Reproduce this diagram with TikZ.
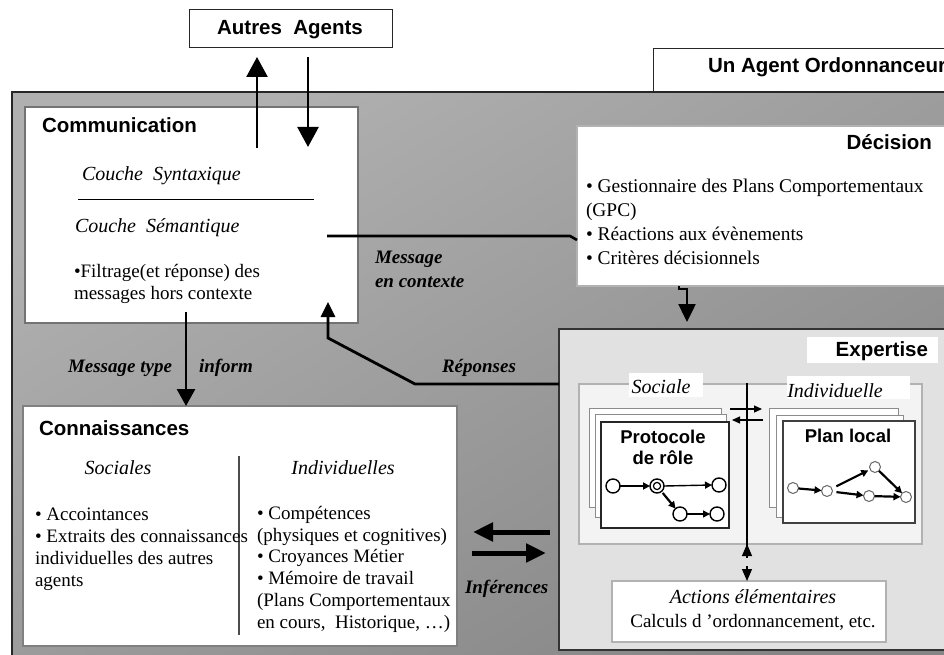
\documentclass[tikz,border=0pt]{standalone}
\usepackage{fontspec}
\setmainfont{Liberation Serif}
\setsansfont{Liberation Sans}
\usetikzlibrary{arrows.meta}

\definecolor{agentlight}{HTML}{B0B0B0}
\definecolor{agentdark}{HTML}{858585}
\definecolor{expfill}{HTML}{E1E1E1}
\definecolor{panelfill}{HTML}{F3F3F3}

\begin{document}
\begin{tikzpicture}[x=1pt,y=-1pt,
  every node/.style={inner sep=0pt, outer sep=0pt},
  box/.style={rectangle, anchor=north west, inner sep=0pt},
  head/.style={font=\sffamily\bfseries\fontsize{20.5}{22}\selectfont},
  subhead/.style={font=\sffamily\bfseries\fontsize{18.5}{21}\selectfont},
  txt/.style={font=\fontsize{19}{22}\selectfont, align=left},
  itx/.style={font=\itshape\fontsize{20}{22}\selectfont},
  bix/.style={font=\bfseries\itshape\fontsize{19}{24}\selectfont, align=left},
  bigarrow/.style={line width=2.5pt, -{Triangle[length=20pt,width=21pt]}},
  midarrow/.style={line width=2.8pt, -{Triangle[length=17pt,width=18pt]}},
  fatarrow/.style={line width=5pt, -{Triangle[length=20pt,width=18pt]}},
  thinarrow/.style={line width=1.2pt, -{Triangle[length=8pt,width=7pt]}},
  vhead/.style={line width=1.2pt, -{Triangle[length=12pt,width=10pt]}},
  pcircle/.style={circle, draw, line width=1.4pt, fill=white, minimum size=14},
  lcircle/.style={circle, draw=black!60, line width=1pt, fill=white, minimum size=11},
  garrow/.style={line width=2.2pt, -{Triangle[length=7pt,width=7pt]}},
  tarrow/.style={line width=1.4pt, -{Triangle[length=7pt,width=7pt]}},
  sheet/.style={box, draw=black!45, line width=1pt, fill=white},
]
\path[use as bounding box] (0,0) rectangle (944,655);
\clip (0,0) rectangle (944,655);
\fill[white] (0,0) rectangle (944,655);

% the agent container and its title tab
\node[box, top color=agentlight, bottom color=agentdark, shading angle=30,
      draw=black!85, line width=1.3pt, minimum width=968, minimum height=608] (agent) at (12,92) {};
\node[box, draw=black!85, line width=1pt, fill=white, minimum width=330, minimum height=43] (tab) at (653,49) {};
\node[head, anchor=base west] (tabT) at (708,73) {Un Agent Ordonnanceur};

% other agents
\node[box, draw=black!85, line width=1pt, fill=white, minimum width=203, minimum height=38] (agents) at (189,10) {};
\node[head, anchor=base] (agentsT) at (290,35) {Autres\ \ Agents};

% communication module
\node[box, draw=black!55, line width=1.2pt, fill=white, minimum width=333, minimum height=216] (comm) at (25,107) {};
\node[head, anchor=base west] (commT) at (42,133) {Communication};
\node[itx, anchor=base west] (synt) at (82,180) {Couche\ \ Syntaxique};
\draw[line width=1pt] (78,199) -- (314,199);
\node[itx, anchor=base west] (sem) at (75,232) {Couche\ \ Sémantique};
% multi-line texts are placed by the baseline of their last line
\node[txt, anchor=base west] (filt) at (74,299) {•Filtrage(et réponse) des\\messages hors contexte};

% decision module
\node[box, draw=black!30, line width=1.2pt, fill=white, minimum width=400, minimum height=160] (dec) at (577,126) {};
\node[head, anchor=base east] (decT) at (932,150) {Décision};
\node[txt, anchor=base west, font=\fontsize{19.4}{23.7}\selectfont] (decL) at (586,264)
  {• Gestionnaire des Plans Comportementaux\\(GPC)\\• Réactions aux évènements\\• Critères décisionnels};

% knowledge module
\node[box, draw=black!50, line width=1.2pt, fill=white, minimum width=434, minimum height=240] (conn) at (23,406) {};
\node[head, anchor=base west] (connT) at (39,435) {Connaissances};
\node[itx, anchor=base] (socT) at (118,474) {Sociales};
\node[itx, anchor=base] (indT) at (343,474) {Individuelles};
\draw[line width=1.2pt, black!70] (239,456) -- (239,635);
\node[txt, anchor=base west, font=\fontsize{19}{22}\selectfont] (socL) at (35,586)
  {• Accointances\\• Extraits des connaissances\\individuelles des autres\\agents};
\node[txt, anchor=base west, font=\fontsize{19}{21.7}\selectfont] (indL) at (257,628)
  {• Compétences\\(physiques et cognitives)\\• Croyances Métier\\• Mémoire de travail\\(Plans Comportementaux\\en cours,\ \ Historique, …)};

% expertise module
\node[box, draw=black!80, line width=2pt, fill=expfill, minimum width=420, minimum height=321] (exp) at (559,329) {};
\node[box, fill=white, minimum width=131, minimum height=26] (expLab) at (807,337) {};
\node[head, anchor=base east] (expT) at (928,356) {Expertise};
\node[box, draw=black!30, line width=1.2pt, fill=panelfill, minimum width=343, minimum height=160] (panel) at (579,384) {};
\node[box, fill=white, minimum width=74, minimum height=24] (socTab) at (629,373) {};
\node[box, fill=white, minimum width=123, minimum height=23] (indTab) at (787,376) {};
\node[itx, anchor=base] (socialeT) at (661,393) {Sociale};
\node[itx, anchor=base] (indivT) at (835,397) {Individuelle};

% role protocol sheets
\node[sheet, minimum width=132, minimum height=99] (pr3) at (589,408) {};
\node[sheet, minimum width=131, minimum height=103] (pr2) at (595,414) {};
\node[sheet, draw=black!85, line width=1.2pt, minimum width=128, minimum height=106] (pr1) at (601,422) {};
\node[subhead, anchor=base, align=center] (prT) at (663,464) {Protocole\\de rôle};

% local plan sheets
\node[sheet, minimum width=129, minimum height=99] (pl3) at (769,408) {};
\node[sheet, minimum width=127, minimum height=102] (pl2) at (776,415) {};
\node[sheet, draw=black!75, line width=1.2pt, minimum width=132, minimum height=102] (pl1) at (783,421) {};
\node[subhead, anchor=base] (plT) at (848,442) {Plan local};

% role protocol graph
\node[pcircle] (c1) at (613,486) {};
\node[pcircle] (c2) at (657,486) {};
\draw[line width=1.2pt] (c2.center) circle[radius=3.6];
\node[pcircle] (c3) at (719,485) {};
\node[pcircle] (c4) at (680,514) {};
\node[pcircle] (c5) at (717,514) {};
\draw[garrow] (c1) -- (c2);
\draw[tarrow] (c2.east) -- (c3.west);
\draw[garrow, shorten <=2pt] (c2) -- (c4);
\draw[tarrow] (c4) -- (c5);

% local plan graph
\node[lcircle] (p1) at (793,488) {};
\node[lcircle] (p2) at (827,491) {};
\node[lcircle] (p3) at (875,467) {};
\node[lcircle] (p4) at (869,496) {};
\node[lcircle] (p5) at (906,497) {};
\draw[garrow] (p1) -- (p2);
\draw[garrow, shorten <=5pt, shorten >=2pt] (p2) -- (p3);
\draw[garrow, shorten <=4pt] (p2) -- (p4);
\draw[garrow] (p3) -- (p5);
\draw[garrow] (p4) -- (p5);

% exchanges between the social and individual parts
\coordinate (sx1) at (730,409);
\coordinate (sx2) at (762,409);
\coordinate (sx3) at (763,420);
\coordinate (sx4) at (732,420);
\draw[thinarrow] (sx1) -- (sx2);
\draw[thinarrow] (sx3) -- (sx4);

% elementary actions
\node[box, draw=black!30, line width=1.5pt, fill=white, minimum width=274, minimum height=61] (act) at (612,581) {};
\node[itx, anchor=base] (actT) at (753,603) {Actions élémentaires};
\node[txt, anchor=base, font=\fontsize{19}{22}\selectfont] (actL) at (753,627) {Calculs d 'ordonnancement, etc.};
\coordinate (vt) at (747,383);
\coordinate (vm1) at (747,558);
\coordinate (vm2) at (747,566);
\draw[line width=1.2pt] (vt) -- (vm1);
\draw[vhead] (vm1) -- (panel.south -| vt);
\draw[vhead] (vm2) -- (act.north -| vt);

% communication with other agents
\coordinate (outS) at (257,148);
\coordinate (outE) at (257,57);
\coordinate (inS) at (308,57);
\coordinate (inE) at (308,147);
\draw[bigarrow] (outS) -- (outE);
\draw[bigarrow] (inS) -- (inE);

% message in context to the decision module
\coordinate (mc1) at (327,236);
\coordinate (mc2) at (570,236);
\coordinate (mc3) at (577,240);
\draw[line width=2.6pt] (mc1) -- (mc2) -- (dec.west |- mc3);
\node[bix, anchor=base west] (mcT) at (375,287) {Message\\en contexte};

% decision to expertise
\coordinate (dA) at (679,289);
\coordinate (dB) at (687,0);
\draw[line width=2.5pt, -{Triangle[length=18pt,width=17pt]}, shorten >=7pt]
  (dec.south -| dA) -- (dA) -- (dA -| dB) -- (exp.north -| dB);

% inform messages to knowledge
\coordinate (mt) at (186,312);
\draw[midarrow] (mt) -- (conn.north -| mt);
\node[bix, anchor=base west] (mtT) at (68,372) {Message type};
\node[bix, anchor=base west] (infT) at (199,372) {inform};

% answers back to communication
\coordinate (r1) at (415,384);
\coordinate (r2) at (328,338);
\coordinate (r3) at (328,302);
\draw[line width=2.8pt, line join=miter, -{Triangle[length=15pt,width=14pt]}]
  (exp.west |- r1) -- (r1) -- (r2) -- (r3);
\node[bix, anchor=base west] (repT) at (442,372) {Réponses};

% inferences between knowledge and expertise
\coordinate (i1) at (0,532);
\coordinate (i2) at (0,553);
\draw[fatarrow, shorten <=9pt, shorten >=16pt] (exp.west |- i1) -- (conn.east |- i1);
\draw[fatarrow, shorten <=15pt, shorten >=13pt] (conn.east |- i2) -- (exp.west |- i2);
\node[bix, anchor=base west] (infrT) at (465,593) {Inférences};
\end{tikzpicture}
\end{document}
